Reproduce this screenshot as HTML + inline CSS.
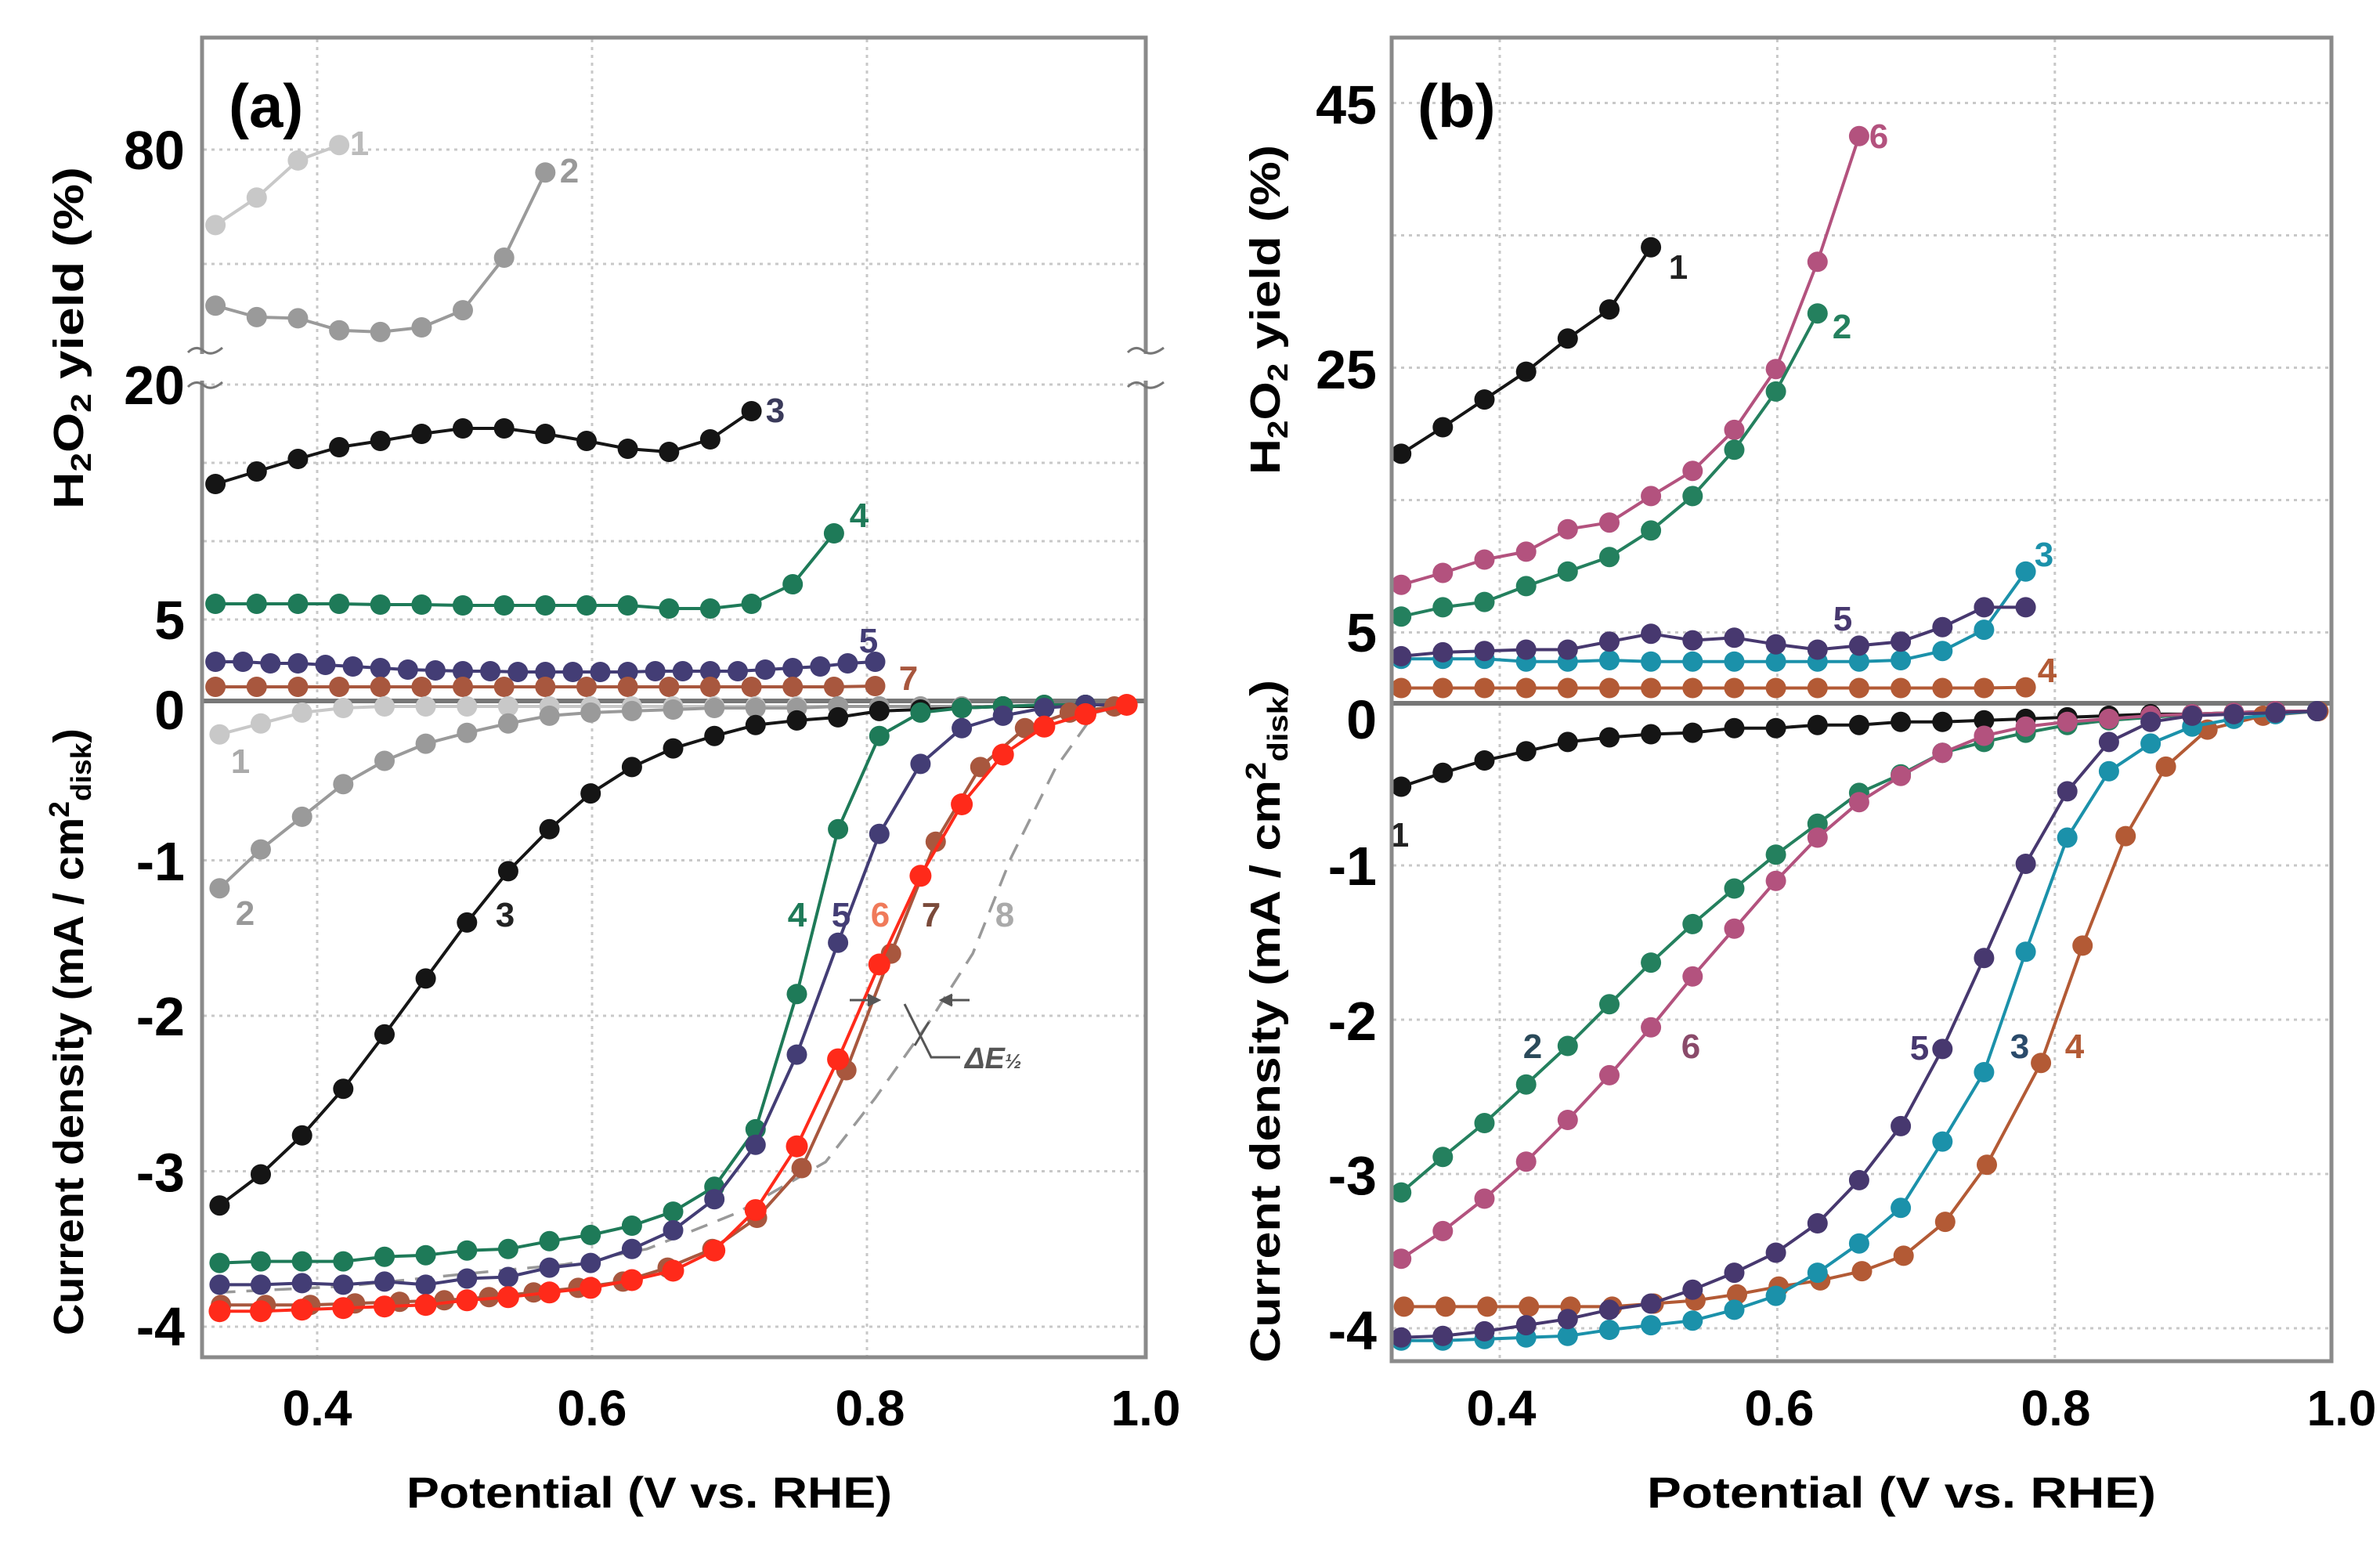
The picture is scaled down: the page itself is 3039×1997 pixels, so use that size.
<!DOCTYPE html>
<html><head><meta charset="utf-8"><style>
html,body{margin:0;padding:0;background:#fff;}
svg{display:block;}
text{font-family:"Liberation Sans",sans-serif;font-weight:bold;}
</style></head><body>
<svg id="chart" width="3039" height="1997" viewBox="0 0 3039 1997" xmlns="http://www.w3.org/2000/svg">
<defs>
<clipPath id="clipA"><rect x="258" y="48" width="1205" height="1685"/></clipPath>
<clipPath id="clipB"><rect x="1777" y="48" width="1200" height="1690"/></clipPath>
</defs>
<rect width="3039" height="1997" fill="#fff"/>
<g id="gridA"></g>
<g id="gridB"></g>
<g id="seriesA" clip-path="url(#clipA)"></g>
<g id="seriesB" clip-path="url(#clipB)"></g>
<g id="labels"></g>

<rect x="258" y="48" width="1205" height="1685" fill="none" stroke="#8a8a8a" stroke-width="5"/>
<rect x="1777" y="48" width="1200" height="1690" fill="none" stroke="#8a8a8a" stroke-width="5"/>
<g fill="none" stroke="#777" stroke-width="3">
<rect x="240" y="452" width="40" height="34" fill="#fff" stroke="none"/>
<rect x="1440" y="452" width="46" height="34" fill="#fff" stroke="none"/>
<path d="M240 450 q10 -10 20 -2 q10 8 24 -4"/>
<path d="M240 494 q10 -10 20 -2 q10 8 24 -4"/>
<path d="M1440 450 q10 -10 20 -2 q10 8 26 -4"/>
<path d="M1440 494 q10 -10 20 -2 q10 8 26 -4"/>
</g>

<text x="292" y="162" font-size="78">(a)</text>
<text x="1810" y="162" font-size="78">(b)</text>

<g font-size="70" text-anchor="end">
<text x="236" y="216">80</text>
<text x="236" y="516">20</text>
<text x="236" y="816">5</text>
<text x="236" y="931">0</text>
<text x="236" y="1124">-1</text>
<text x="236" y="1322">-2</text>
<text x="236" y="1521">-3</text>
<text x="236" y="1718">-4</text>
</g>
<g font-size="70" text-anchor="end">
<text x="1758" y="158">45</text>
<text x="1758" y="496">25</text>
<text x="1758" y="832">5</text>
<text x="1758" y="943">0</text>
<text x="1758" y="1130">-1</text>
<text x="1758" y="1328">-2</text>
<text x="1758" y="1525">-3</text>
<text x="1758" y="1723">-4</text>
</g>
<g font-size="64" text-anchor="middle">
<text x="405" y="1820">0.4</text><text x="756" y="1820">0.6</text><text x="1111" y="1820">0.8</text><text x="1463" y="1820">1.0</text>
<text x="1917" y="1820">0.4</text><text x="2272" y="1820">0.6</text><text x="2625" y="1820">0.8</text><text x="2990" y="1820">1.0</text>
</g>
<text x="519" y="1925" font-size="56" textLength="620" lengthAdjust="spacingAndGlyphs">Potential (V vs. RHE)</text>
<text x="2103" y="1925" font-size="56" textLength="650" lengthAdjust="spacingAndGlyphs">Potential (V vs. RHE)</text>
<text transform="translate(106,650) rotate(-90)" font-size="54" textLength="437" lengthAdjust="spacingAndGlyphs">H<tspan font-size="36" dy="10">2</tspan><tspan dy="-10">O</tspan><tspan font-size="36" dy="10">2</tspan><tspan dy="-10"> yield (%)</tspan></text>
<text transform="translate(106,1705) rotate(-90)" font-size="54" textLength="775" lengthAdjust="spacingAndGlyphs">Current density (mA / cm<tspan font-size="36" dy="-18">2</tspan><tspan font-size="36" dy="28">disk</tspan><tspan dy="-10">)</tspan></text>
<text transform="translate(1634,606) rotate(-90)" font-size="54" textLength="421" lengthAdjust="spacingAndGlyphs">H<tspan font-size="36" dy="10">2</tspan><tspan dy="-10">O</tspan><tspan font-size="36" dy="10">2</tspan><tspan dy="-10"> yield (%)</tspan></text>
<text transform="translate(1634,1740) rotate(-90)" font-size="54" textLength="872" lengthAdjust="spacingAndGlyphs">Current density (mA / cm<tspan font-size="36" dy="-18">2</tspan><tspan font-size="36" dy="28">disk</tspan><tspan dy="-10">)</tspan></text>

<g stroke="#555" stroke-width="3" fill="none">
<line x1="1085" y1="1277" x2="1120" y2="1277"/><path d="M1108 1270 L1122 1277 L1108 1284" fill="#555"/>
<line x1="1203" y1="1277" x2="1238" y2="1277"/><path d="M1216 1270 L1202 1277 L1216 1284" fill="#555"/>
<polyline points="1155,1282 1189,1350 1226,1350"/>
<line x1="1186" y1="1305" x2="1168" y2="1335"/>
</g>
<text x="1232" y="1364" font-size="38" font-style="italic" font-weight="normal" fill="#555">ΔE<tspan font-size="26">½</tspan></text>

<script>
const aYieldX1 = [0.326, 0.356, 0.386, 0.416];
const aYield1 = [66.8, 71.6, 78.1, 80.8];
const aYieldX2 = [0.326, 0.356, 0.386, 0.416, 0.446, 0.476, 0.506, 0.536, 0.566];
const aYield2 = [52.7, 50.7, 50.5, 48.4, 48.1, 48.9, 51.9, 61.1, 76.0];
const aYieldX3 = [0.326,0.356,0.386,0.416,0.446,0.476,0.506,0.536,0.566,0.596,0.626,0.656,0.686,0.716];
const aYield3 = [13.65,14.45,15.25,16.0,16.4,16.85,17.2,17.2,16.85,16.4,15.9,15.7,16.5,18.3];
const aYieldX4 = [0.326,0.356,0.386,0.416,0.446,0.476,0.506,0.536,0.566,0.596,0.626,0.656,0.686,0.716,0.746,0.776];
const aYield4 = [6.0,6.0,6.0,6.0,5.95,5.95,5.9,5.9,5.9,5.9,5.9,5.7,5.7,6.0,7.25,10.5];
const aYieldX5 = [0.326,0.346,0.366,0.386,0.406,0.426,0.446,0.466,0.486,0.506,0.526,0.546,0.566,0.586,0.606,0.626,0.646,0.666,0.686,0.706,0.726,0.746,0.766,0.786,0.806];
const aYield5 = [2.3,2.3,2.2,2.2,2.1,2.0,1.9,1.8,1.75,1.7,1.7,1.65,1.65,1.65,1.65,1.65,1.7,1.7,1.7,1.7,1.8,1.9,2.0,2.2,2.3];
const aYieldX7 = [0.326,0.356,0.386,0.416,0.446,0.476,0.506,0.536,0.566,0.596,0.626,0.656,0.686,0.716,0.746,0.776,0.806];
const aYield7 = [0.7,0.7,0.7,0.7,0.7,0.7,0.7,0.7,0.7,0.7,0.7,0.7,0.7,0.7,0.7,0.7,0.75];

const aCurX = [0.329,0.359,0.389,0.419,0.449,0.479,0.509,0.539,0.569,0.599,0.629,0.659,0.689,0.719,0.749,0.779,0.809,0.839,0.869,0.899,0.929,0.959,0.989];
const aCur1 = [-0.19,-0.12,-0.05,-0.02,-0.01,-0.01,-0.01,-0.01,-0.01,-0.01,-0.01,-0.01,-0.01,-0.01,-0.01,-0.01,-0.01,-0.01,-0.01,-0.01,0,0,0];
const aCur2 = [-1.18,-0.93,-0.72,-0.51,-0.36,-0.25,-0.18,-0.12,-0.07,-0.05,-0.04,-0.03,-0.02,-0.02,-0.02,-0.01,-0.01,-0.01,-0.01,-0.01,0,0,0];
const aCur3 = [-3.22,-3.02,-2.77,-2.47,-2.12,-1.76,-1.4,-1.07,-0.8,-0.57,-0.4,-0.28,-0.2,-0.13,-0.1,-0.08,-0.04,-0.03,-0.02,-0.01,-0.01,0,0];
const aCur4 = [-3.59,-3.58,-3.58,-3.58,-3.55,-3.54,-3.51,-3.5,-3.45,-3.41,-3.35,-3.26,-3.1,-2.73,-1.86,-0.8,-0.2,-0.05,-0.02,-0.01,0,0,0];
const aCur5 = [-3.73,-3.73,-3.72,-3.73,-3.71,-3.73,-3.69,-3.68,-3.62,-3.59,-3.5,-3.38,-3.18,-2.83,-2.25,-1.53,-0.83,-0.38,-0.15,-0.07,-0.02,0,0];
const aCur6 = [-3.9,-3.9,-3.89,-3.88,-3.87,-3.86,-3.83,-3.81,-3.78,-3.75,-3.7,-3.64,-3.51,-3.25,-2.84,-2.28,-1.67,-1.1,-0.64,-0.32,-0.14,-0.06,0];
const aCurX7 = [0.33,0.3625,0.395,0.4275,0.46,0.4925,0.525,0.5575,0.59,0.6225,0.655,0.6875,0.72,0.7525,0.785,0.8175,0.85,0.8825,0.915,0.9475,0.98];
const aCur7 = [-3.86,-3.86,-3.86,-3.85,-3.84,-3.83,-3.81,-3.78,-3.75,-3.71,-3.62,-3.5,-3.3,-2.98,-2.35,-1.6,-0.88,-0.4,-0.15,-0.05,-0.01];
const aCurX8 = [0.328,0.42,0.508,0.58,0.64,0.705,0.77,0.806,0.846,0.877,0.905,0.937,0.966,0.99];
const aCur8 = [-3.78,-3.74,-3.66,-3.6,-3.5,-3.27,-2.94,-2.53,-2.03,-1.6,-0.98,-0.41,-0.05,0];

const bX = [0.329,0.359,0.389,0.419,0.449,0.479,0.509,0.539,0.569,0.599,0.629,0.659,0.689,0.719,0.749,0.779,0.809,0.839,0.869,0.899,0.929,0.959,0.989];
const bYield1 = [18.5,20.5,22.6,24.7,27.2,29.4,34.1];
const bYield6 = [8.6,9.5,10.5,11.1,12.8,13.3,15.3,17.2,20.3,24.9,33.0,42.5];
const bYield2 = [6.2,6.9,7.3,8.5,9.6,10.7,12.7,15.3,18.8,23.2,29.1];
const bYield5 = [3.2,3.5,3.6,3.7,3.7,4.3,4.9,4.4,4.6,4.1,3.7,4.0,4.3,5.4,6.9,6.9];
const bYield3 = [3.0,3.0,3.0,2.8,2.8,2.9,2.8,2.8,2.8,2.8,2.8,2.8,2.9,3.6,5.2,9.6];
const bYield4 = [0.8,0.8,0.8,0.8,0.8,0.8,0.8,0.8,0.8,0.8,0.8,0.8,0.8,0.8,0.8,0.85];

const bCur1 = [-0.49,-0.40,-0.32,-0.26,-0.20,-0.17,-0.15,-0.14,-0.11,-0.11,-0.09,-0.09,-0.07,-0.07,-0.06,-0.05,-0.04,-0.03,-0.02,-0.02,-0.01,0,0];
const bCur2 = [-3.12,-2.89,-2.67,-2.42,-2.17,-1.90,-1.63,-1.38,-1.15,-0.93,-0.73,-0.53,-0.41,-0.27,-0.2,-0.14,-0.09,-0.06,-0.04,-0.02,-0.01,0,0];
const bCur6 = [-3.55,-3.37,-3.16,-2.92,-2.65,-2.36,-2.05,-1.72,-1.41,-1.10,-0.82,-0.59,-0.42,-0.27,-0.16,-0.1,-0.07,-0.05,-0.03,-0.02,-0.01,0,0];
const bCur5 = [-4.06,-4.05,-4.02,-3.98,-3.94,-3.88,-3.84,-3.75,-3.64,-3.51,-3.32,-3.04,-2.69,-2.19,-1.6,-0.99,-0.52,-0.2,-0.07,-0.03,-0.02,-0.01,0];
const bCur3 = [-4.08,-4.08,-4.07,-4.06,-4.05,-4.01,-3.98,-3.95,-3.88,-3.79,-3.64,-3.45,-3.22,-2.79,-2.34,-1.56,-0.82,-0.39,-0.21,-0.1,-0.05,-0.02,0];
const bCurX4 = [0.331,0.361,0.391,0.421,0.451,0.481,0.511,0.541,0.571,0.601,0.631,0.661,0.691,0.721,0.751,0.79,0.82,0.851,0.88,0.91,0.95,0.99];
const bCur4 = [-3.86,-3.86,-3.86,-3.86,-3.86,-3.86,-3.84,-3.82,-3.78,-3.73,-3.69,-3.63,-3.53,-3.31,-2.94,-2.28,-1.52,-0.81,-0.36,-0.12,-0.03,0];

function xa(v){ return 405 + (v - 0.4) * 1755; }
function yaYield(p){ return p <= 25 ? 891 - 20 * p : 191 - (p - 80) * 7.3; }
function yaCur(j){ return 900 - 198.5 * j; }
function xb(v){ return 1915 + (v - 0.4) * 1772; }
function ybYield(p){ return 892 - 16.9 * p; }
function ybCur(j){ return 908 - 197 * j; }

const NS = "http://www.w3.org/2000/svg";
function mk(tag, attrs, parent){
  const e = document.createElementNS(NS, tag);
  for (const k in attrs) e.setAttribute(k, attrs[k]);
  parent.appendChild(e);
  return e;
}

function series(parent, name, xs, ys, fx, fy, color, r, dashed){
  const g = document.createElementNS(NS, "g");
  
  
  parent.appendChild(g);
  const n = Math.min(xs.length, ys.length);
  let pts = [];
  for (let i = 0; i < n; i++) pts.push(fx(xs[i]).toFixed(1) + "," + fy(ys[i]).toFixed(1));
  const pl = mk("polyline", {points: pts.join(" "), fill: "none", stroke: color, "stroke-width": dashed ? 3.5 : 4, "stroke-linejoin": "round"}, g);
  if (dashed) pl.setAttribute("stroke-dasharray", "22 14");
  
  
  if (!dashed) {
    for (let i = 0; i < n; i++) {
      const c = mk("circle", {cx: fx(xs[i]).toFixed(1), cy: fy(ys[i]).toFixed(1), r: r, fill: color}, g);
      
      
    }
  }
}

const gridA = document.getElementById("gridA");
const gridB = document.getElementById("gridB");
const gridStyle = {stroke: "#c8c8c8", "stroke-width": 3, "stroke-dasharray": "4 6"};
[0.4, 0.6, 0.8].forEach(v => {
  const l = mk("line", Object.assign({x1: xa(v), x2: xa(v), y1: 50, y2: 1731}, gridStyle), gridA);
  
  
  const l2 = mk("line", Object.assign({x1: xb(v), x2: xb(v), y1: 50, y2: 1736}, gridStyle), gridB);
  
  
});
const aYieldGrid = [80, 60, 20, 15, 10, 5];
aYieldGrid.forEach(p => {
  const l = mk("line", Object.assign({x1: 260, x2: 1461, y1: yaYield(p), y2: yaYield(p)}, gridStyle), gridA);
  
  
});
const curGrid = [-1, -2, -3, -4];
curGrid.forEach(j => {
  const l = mk("line", Object.assign({x1: 260, x2: 1461, y1: yaCur(j), y2: yaCur(j)}, gridStyle), gridA);
  
  
  const l2 = mk("line", Object.assign({x1: 1779, x2: 2975, y1: ybCur(j), y2: ybCur(j)}, gridStyle), gridB);
  
  
});
const bYieldGrid = [45, 35, 25, 15, 5];
bYieldGrid.forEach(p => {
  const l = mk("line", Object.assign({x1: 1779, x2: 2975, y1: ybYield(p), y2: ybYield(p)}, gridStyle), gridB);
  
  
});
const zA = mk("line", {x1: 258, x2: 1463, y1: 895, y2: 895, stroke: "#777", "stroke-width": 6}, gridA);


const zB = mk("line", {x1: 1777, x2: 2977, y1: 898, y2: 898, stroke: "#777", "stroke-width": 6}, gridB);



const sA = document.getElementById("seriesA");
const R = 13;
series(sA, "a-yield-1", aYieldX1, aYield1, xa, yaYield, "#c8c8c8", R);
series(sA, "a-yield-2", aYieldX2, aYield2, xa, yaYield, "#9a9a9a", R);
series(sA, "a-yield-3", aYieldX3, aYield3, xa, yaYield, "#151515", R);
series(sA, "a-yield-4", aYieldX4, aYield4, xa, yaYield, "#1e7a58", R);
series(sA, "a-yield-5", aYieldX5, aYield5, xa, yaYield, "#433d75", R);
series(sA, "a-yield-7", aYieldX7, aYield7, xa, yaYield, "#a8573e", R);
series(sA, "a-current-8", aCurX8, aCur8, xa, yaCur, "#999", R, true);
series(sA, "a-current-1", aCurX, aCur1, xa, yaCur, "#c8c8c8", R);
series(sA, "a-current-2", aCurX, aCur2, xa, yaCur, "#9a9a9a", R);
series(sA, "a-current-3", aCurX, aCur3, xa, yaCur, "#151515", R);
series(sA, "a-current-4", aCurX, aCur4, xa, yaCur, "#1e7a58", R);
series(sA, "a-current-5", aCurX, aCur5, xa, yaCur, "#433d75", R);
series(sA, "a-current-7", aCurX7, aCur7, xa, yaCur, "#a8573e", R);
series(sA, "a-current-6", aCurX, aCur6, xa, yaCur, "#ff2a1a", 14);

const sB = document.getElementById("seriesB");
series(sB, "b-yield-1", bX, bYield1, xb, ybYield, "#151515", R);
series(sB, "b-yield-6", bX, bYield6, xb, ybYield, "#b3527e", R);
series(sB, "b-yield-2", bX, bYield2, xb, ybYield, "#24805e", R);
series(sB, "b-yield-4", bX, bYield4, xb, ybYield, "#b35a35", R);
series(sB, "b-yield-3", bX, bYield3, xb, ybYield, "#1b91aa", R);
series(sB, "b-yield-5", bX, bYield5, xb, ybYield, "#47386f", R);
series(sB, "b-current-1", bX, bCur1, xb, ybCur, "#151515", R);
series(sB, "b-current-2", bX, bCur2, xb, ybCur, "#24805e", R);
series(sB, "b-current-6", bX, bCur6, xb, ybCur, "#b3527e", R);
series(sB, "b-current-4", bCurX4, bCur4, xb, ybCur, "#b35a35", R);
series(sB, "b-current-3", bX, bCur3, xb, ybCur, "#1b91aa", R);
series(sB, "b-current-5", bX, bCur5, xb, ybCur, "#47386f", R);

const labels = document.getElementById("labels");
const labelText = ["1","2","3","4","5","7","1","2","3","4","5","6","7","8","1","6","2","3","5","4","1","2","6","5","3","4"];
const labelColor = ["#bbb","#999","#3a3a5a","#1e7a58","#433d75","#a8573e","#aaa","#999","#222","#1e7a58","#433d75","#f07a5a","#7a4a3a","#aaa","#222","#b3527e","#24805e","#1b91aa","#47386f","#b35a35","#222","#2a4a5a","#8a4a6a","#47386f","#2a4a6a","#b35a35"];
const labelPos = [[459,182],[727,217],[990,523],[1097,657],[1109,817],[1160,865],[307,971],[313,1165],[645,1167],[1018,1167],[1074,1167],[1124,1167],[1189,1167],[1283,1167],[2143,340],[2399,173],[2352,416],[2610,707],[2353,789],[2614,855],[1787,1065],[1957,1335],[2159,1335],[2451,1337],[2579,1335],[2649,1335]];
for (let i = 0; i < labelText.length; i++) {
  const t = mk("text", {x: labelPos[i][0], y: labelPos[i][1] + 16, "font-size": 44, fill: labelColor[i], "text-anchor": "middle"}, labels);
  t.textContent = labelText[i];
  
  
}
</script>
</svg>
</body></html>
